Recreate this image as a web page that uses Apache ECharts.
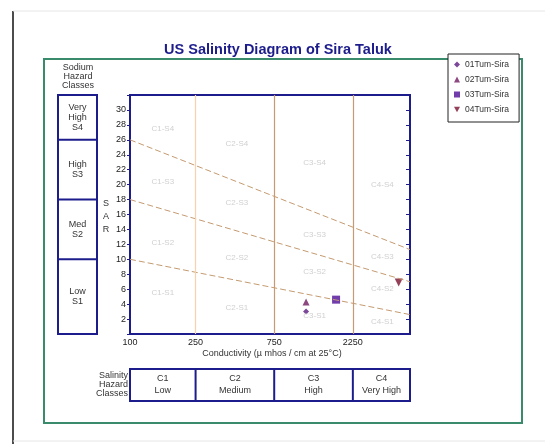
<!DOCTYPE html>
<html>
<head>
<meta charset="utf-8">
<script src="https://cdn.jsdelivr.net/npm/echarts@6/dist/echarts.min.js"></script>
<style>
html,body{margin:0;padding:0;background:#fff;}
#chart{width:545px;height:444px;}
</style>
</head>
<body>
<div id="chart"></div>
<script>
// ---- data ----
const ecTickLabels = [100, 250, 750, 2250];
const classBoundaryEC = [250, 750, 2250];
const boundaryEC = [100, 5000];
const lineS1S2 = [10, 2.6];
const lineS2S3 = [18, 7.0];
const lineS3S4 = [26, 11.3];
const sampleNames = ['01Tum-Sira', '02Tum-Sira', '03Tum-Sira', '04Tum-Sira'];
const sampleEC = [1170, 1170, 1780, 4270];
const sampleSAR = [3.0, 4.3, 4.6, 6.9];
const zoneNames = ['C1-S4','C1-S3','C1-S2','C1-S1','C2-S4','C2-S3','C2-S2','C2-S1','C3-S4','C3-S3','C3-S2','C3-S1','C4-S4','C4-S3','C4-S2','C4-S1'];
const zoneEC = [158,158,158,158, 445,445,445,445, 1320,1320,1320,1320, 3400,3400,3400,3400];
const zoneSAR = [27.5,20.4,12.2,5.5, 25.5,17.6,10.2,3.5, 22.9,13.3,8.3,2.4, 20,10.3,6,1.6];
const sodiumClassBounds = [32, 26, 18, 10, 0];
const sodiumClassLabels = ['Very\nHigh\nS4', 'High\nS3', 'Med\nS2', 'Low\nS1'];
const salinityClassBounds = [100, 250, 750, 2250, 5000];
const salinityClassLabels = ['C1\nLow', 'C2\nMedium', 'C3\nHigh', 'C4\nVery High'];

const NAVY = '#1c1c8c';
const FONT = 'Liberation Sans, Arial, sans-serif';
const INV_TRI = 'path://M0,0 L10,0 L5,9 Z';
const markerSymbols = ['diamond', 'triangle', 'rect', INV_TRI];
const markerSizes = [6, 7, 8, 8];
const markerColors = ['#5a1a80', '#701a60', '#4e0c96', '#7a1030'];

const chart = echarts.init(document.getElementById('chart'));

const series = [];
// class boundary vertical lines
series.push({
  type: 'line', data: [], silent: true,
  markLine: {
    symbol: 'none', silent: true, label: {show: false},
    data: classBoundaryEC.map((v, i) => ({
      xAxis: v,
      lineStyle: {color: i === 0 ? '#f6d2ae' : '#c89a74', width: 1.2, type: 'solid'}
    }))
  }
});
// sodium hazard dashed boundaries
[lineS1S2, lineS2S3, lineS3S4].forEach(l => {
  series.push({
    type: 'line', silent: true, symbol: 'none',
    data: [[boundaryEC[0], l[0]], [boundaryEC[1], l[1]]],
    lineStyle: {color: '#c49a70', width: 1, type: [6, 3]}
  });
});
// zone labels
series.push({
  type: 'scatter', silent: true, symbolSize: 0,
  data: zoneNames.map((n, i) => [zoneEC[i], zoneSAR[i], n]),
  label: {show: true, position: 'inside', formatter: p => p.data[2], color: '#c4c4c4', fontSize: 8, fontFamily: FONT}
});
// samples
sampleNames.forEach((n, i) => {
  series.push({
    name: n, type: 'scatter',
    symbol: markerSymbols[i], symbolSize: markerSizes[i],
    itemStyle: {color: markerColors[i]},
    data: [[sampleEC[i], sampleSAR[i]]]
  });
});

chart.setOption({
  animation: false,
  textStyle: {fontFamily: FONT},
  title: {
    text: 'US Salinity Diagram of Sira Taluk', left: 273, top: 37, textAlign: 'center',
    textStyle: {color: NAVY, fontSize: 14.5, fontWeight: 'bold', fontFamily: FONT}
  },
  legend: {
    data: sampleNames.map((n, i) => ({name: n, icon: markerSymbols[i], itemStyle: {color: markerColors[i]}})),
    orient: 'vertical', left: 448, top: 54, itemWidth: 6, itemHeight: 6, itemGap: 6,
    padding: [6, 10, 8, 6], borderColor: '#222', borderWidth: 1, backgroundColor: '#fff',
    textStyle: {fontSize: 8.5, color: '#333', fontFamily: FONT}, selectedMode: false
  },
  grid: {left: 130, top: 95, right: 135, bottom: 110, show: true, borderColor: NAVY, borderWidth: 2, backgroundColor: 'transparent'},
  xAxis: {
    type: 'log', logBase: 10, min: 100, max: 5000,
    axisLine: {show: false}, splitLine: {show: false}, axisTick: {show: false},
    axisLabel: {show: true, customValues: ecTickLabels, fontSize: 9, color: '#222', margin: 4, formatter: v => String(Math.round(v))}
  },
  yAxis: [{
    type: 'value', min: 0, max: 32, interval: 2,
    axisLine: {show: false}, splitLine: {show: false},
    axisTick: {show: true, inside: false, length: 3, lineStyle: {color: NAVY}},
    axisLabel: {fontSize: 9, color: '#222', margin: 4, formatter: v => (v === 0 || v === 32) ? '' : String(v)}
  }, {
    type: 'value', min: 0, max: 32, interval: 2, position: 'right',
    axisLine: {show: false}, splitLine: {show: false},
    axisTick: {show: true, inside: true, length: 4, lineStyle: {color: NAVY}},
    axisLabel: {show: false}
  }],
  series: series
});

// decorative tables aligned with axes
const px = (x, y) => chart.convertToPixel({gridIndex: 0}, [x, y]);
const g = [];
// outer page frame
g.push({type: 'line', shape: {x1: 13, y1: 11, x2: 13, y2: 444}, style: {stroke: '#111', lineWidth: 1.5}});
g.push({type: 'line', shape: {x1: 13, y1: 11, x2: 545, y2: 11}, style: {stroke: '#e6e6e6', lineWidth: 1}});
g.push({type: 'line', shape: {x1: 13, y1: 441, x2: 545, y2: 441}, style: {stroke: '#e6e6e6', lineWidth: 1}});
// green frame
g.push({type: 'rect', shape: {x: 44, y: 59, width: 478, height: 364}, style: {fill: 'none', stroke: '#3a8a6c', lineWidth: 2}, z: -1});

// sodium table
const sx0 = 58, sx1 = 97;
const sTop = px(100, sodiumClassBounds[0])[1], sBot = px(100, sodiumClassBounds[4])[1];
g.push({type: 'rect', shape: {x: sx0, y: sTop, width: sx1 - sx0, height: sBot - sTop}, style: {fill: 'none', stroke: NAVY, lineWidth: 2}});
for (let i = 0; i < sodiumClassLabels.length; i++) {
  const y0 = px(100, sodiumClassBounds[i])[1], y1 = px(100, sodiumClassBounds[i + 1])[1];
  if (i > 0) g.push({type: 'line', shape: {x1: sx0, y1: y0, x2: sx1, y2: y0}, style: {stroke: NAVY, lineWidth: 2}});
  g.push({type: 'text', x: (sx0 + sx1) / 2, y: (y0 + y1) / 2, style: {text: sodiumClassLabels[i], align: 'center', verticalAlign: 'middle', fontSize: 9, lineHeight: 10, fill: '#333', fontFamily: FONT}});
}
g.push({type: 'text', x: 78, y: 77, style: {text: 'Sodium\nHazard\nClasses', align: 'center', verticalAlign: 'middle', fontSize: 9, lineHeight: 9, fill: '#333', fontFamily: FONT}});
// SAR label
g.push({type: 'text', x: 106, y: 217, style: {text: 'S\nA\nR', align: 'center', verticalAlign: 'middle', fontSize: 9, lineHeight: 13, fill: '#333', fontFamily: FONT}});
// x axis name
g.push({type: 'text', x: 272, y: 354, style: {text: 'Conductivity (\u00b5 mhos / cm at 25\u00b0C)', align: 'center', verticalAlign: 'middle', fontSize: 9, fill: '#333', fontFamily: FONT}});

// salinity table
const tTop = 369, tBot = 401;
const tx0 = px(salinityClassBounds[0], 0)[0], tx1 = px(salinityClassBounds[4], 0)[0];
g.push({type: 'rect', shape: {x: tx0, y: tTop, width: tx1 - tx0, height: tBot - tTop}, style: {fill: 'none', stroke: NAVY, lineWidth: 2}});
for (let i = 0; i < salinityClassLabels.length; i++) {
  const x0 = px(salinityClassBounds[i], 0)[0], x1 = px(salinityClassBounds[i + 1], 0)[0];
  if (i > 0) g.push({type: 'line', shape: {x1: x0, y1: tTop, x2: x0, y2: tBot}, style: {stroke: NAVY, lineWidth: 2}});
  g.push({type: 'text', x: (x0 + x1) / 2, y: (tTop + tBot) / 2, style: {text: salinityClassLabels[i], align: 'center', verticalAlign: 'middle', fontSize: 9, lineHeight: 12, fill: '#333', fontFamily: FONT}});
}
g.push({type: 'text', x: 128, y: 385, style: {text: 'Salinity\nHazard\nClasses', align: 'right', verticalAlign: 'middle', fontSize: 9, lineHeight: 9, fill: '#333', fontFamily: FONT}});

chart.setOption({graphic: {elements: g}});
</script>
</body>
</html>
